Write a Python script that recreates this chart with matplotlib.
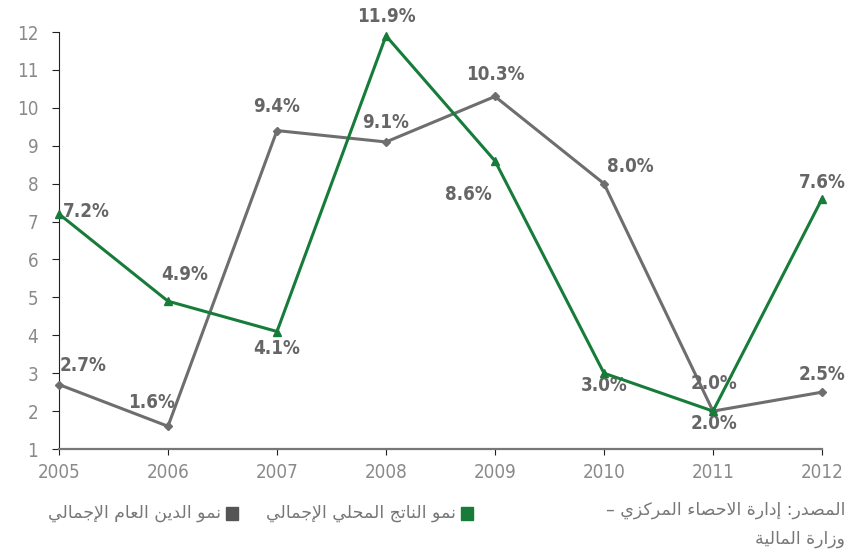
import numpy as np
import matplotlib.pyplot as plt
from matplotlib.patches import Rectangle

# data
years = [2005, 2006, 2007, 2008, 2009, 2010, 2011, 2012]
gdp_growth = [7.2, 4.9, 4.1, 11.9, 8.6, 3.0, 2.0, 7.6]
debt_growth = [2.7, 1.6, 9.4, 9.1, 10.3, 8.0, 2.0, 2.5]
yticks = list(range(1, 13))

lbl_gdp = 'نمو الناتج المحلي الإجمالي'
lbl_debt = 'نمو الدين العام الإجمالي'
src_1 = 'المصدر: إدارة الاحصاء المركزي –'
src_2 = 'وزارة المالية'

# offsets (points) for value labels
off_gdp = [(20, 2), (12, 19), (0, -12), (0, 14), (-19, -24), (0, -9), (1, -9), (0, 12)]
off_debt = [(17, 14), (-12, 17), (0, 17), (0, 14), (0, 16), (19, 12), (1, 20), (0, 13)]

GREEN = '#177c3a'
GREY = '#6e6e6e'
LBL = '#666666'
TICK = '#8a8a8a'

# --- minimal arabic shaping (matplotlib does no RTL / joining) ---
FORMS = {  # isolated, final, initial, medial
    'ء': (0xFE80,), 'إ': (0xFE87, 0xFE88), 'ا': (0xFE8D, 0xFE8E),
    'ة': (0xFE93, 0xFE94), 'ت': (0xFE95, 0xFE96, 0xFE97, 0xFE98),
    'ج': (0xFE9D, 0xFE9E, 0xFE9F, 0xFEA0), 'ح': (0xFEA1, 0xFEA2, 0xFEA3, 0xFEA4),
    'د': (0xFEA9, 0xFEAA), 'ر': (0xFEAD, 0xFEAE), 'ز': (0xFEAF, 0xFEB0),
    'ص': (0xFEB9, 0xFEBA, 0xFEBB, 0xFEBC), 'ع': (0xFEC9, 0xFECA, 0xFECB, 0xFECC),
    'ك': (0xFED9, 0xFEDA, 0xFEDB, 0xFEDC), 'ل': (0xFEDD, 0xFEDE, 0xFEDF, 0xFEE0),
    'م': (0xFEE1, 0xFEE2, 0xFEE3, 0xFEE4), 'ن': (0xFEE5, 0xFEE6, 0xFEE7, 0xFEE8),
    'و': (0xFEED, 0xFEEE), 'ي': (0xFEF1, 0xFEF2, 0xFEF3, 0xFEF4),
}
LAMALEF = {'ا': (0xFEFB, 0xFEFC), 'إ': (0xFEF9, 0xFEFA)}


def shape(s):
    out = []
    prev_joins = False
    i = 0
    while i < len(s):
        c = s[i]
        if c not in FORMS:
            out.append(c)
            prev_joins = False
            i += 1
            continue
        if c == 'ل' and i + 1 < len(s) and s[i + 1] in LAMALEF:
            f = LAMALEF[s[i + 1]]
            out.append(chr(f[1] if prev_joins else f[0]))
            prev_joins = False
            i += 2
            continue
        f = FORMS[c]
        nxt = s[i + 1] if i + 1 < len(s) else ''
        joins_next = len(f) == 4 and nxt in FORMS
        if prev_joins and joins_next:
            g = f[3]
        elif prev_joins:
            g = f[1]
        elif joins_next:
            g = f[2]
        else:
            g = f[0]
        out.append(chr(g))
        prev_joins = len(f) == 4
        i += 1
    return ''.join(out)[::-1]


fig = plt.figure(figsize=(8.66, 5.54), dpi=100)
ax = fig.add_axes([0.0681, 0.1895, 0.8811, 0.7527])

ax.plot(years, debt_growth, color=GREY, lw=2.2, marker='D', ms=4.5, clip_on=False, zorder=3)
ax.plot(years, gdp_growth, color=GREEN, lw=2.2, marker='^', ms=6, clip_on=False, zorder=4)

for x, y, (dx, dy) in zip(years, gdp_growth, off_gdp):
    ax.annotate('%.1f%%' % y, (x, y), xytext=(dx, dy), textcoords='offset points',
                ha='center', va='center', fontsize=13.5, fontweight='bold',
                color=LBL, fontstretch='condensed')
for x, y, (dx, dy) in zip(years, debt_growth, off_debt):
    ax.annotate('%.1f%%' % y, (x, y), xytext=(dx, dy), textcoords='offset points',
                ha='center', va='center', fontsize=13.5, fontweight='bold',
                color=LBL, fontstretch='condensed')

ax.set_xlim(2005, 2012)
ax.set_ylim(1, 12)
ax.set_xticks(years)
ax.set_yticks(yticks)
for sp in ['top', 'right']:
    ax.spines[sp].set_visible(False)
ax.spines['left'].set_color('#222222')
ax.spines['bottom'].set_color('#777777')
ax.spines['bottom'].set_linewidth(1.6)
ax.tick_params(axis='y', length=5, color='#222222', labelcolor=TICK, labelsize=13.5, pad=10)
ax.tick_params(axis='x', length=4, color='#222222', labelcolor=TICK, labelsize=13.5, pad=6)
for t in ax.get_xticklabels() + ax.get_yticklabels():
    t.set_fontstretch('condensed')

# legend drawn by hand (RTL: square to the right of the text)
fig.patches.append(Rectangle((461 / 866, 1 - 520 / 554), 12 / 866, 13 / 554,
                             transform=fig.transFigure, color=GREEN))
fig.text(456 / 866, 1 - 513 / 554, shape(lbl_gdp), ha='right', va='center',
         fontsize=12.5, color='#777777', family='DejaVu Sans')
fig.patches.append(Rectangle((226 / 866, 1 - 520 / 554), 12 / 866, 13 / 554,
                             transform=fig.transFigure, color='#555555'))
fig.text(221 / 866, 1 - 513 / 554, shape(lbl_debt), ha='right', va='center',
         fontsize=12.5, color='#777777', family='DejaVu Sans')

fig.text(845 / 866, 1 - 510 / 554, shape(src_1), ha='right', va='center',
         fontsize=12.5, color='#777777', family='DejaVu Sans')
fig.text(845 / 866, 1 - 539 / 554, shape(src_2), ha='right', va='center',
         fontsize=12.5, color='#777777', family='DejaVu Sans')

fig.savefig('out.png', dpi=100)
